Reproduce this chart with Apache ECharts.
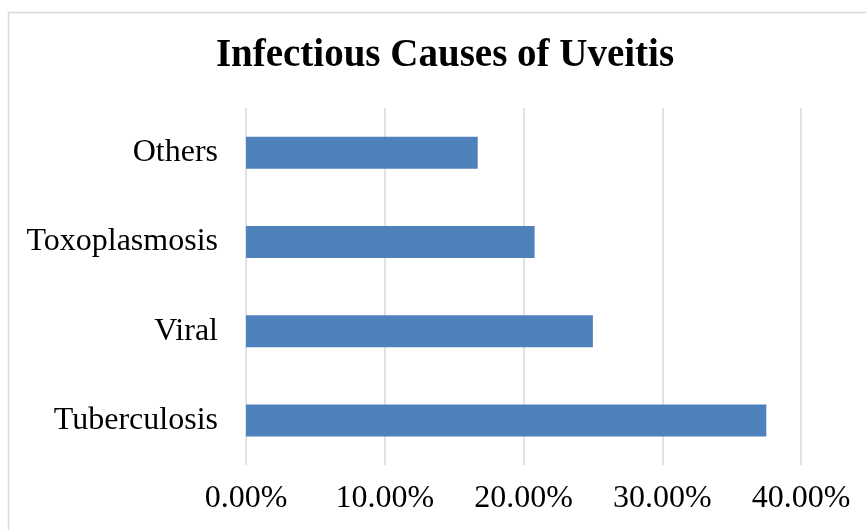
<!DOCTYPE html>
<html>
<head>
<meta charset="utf-8">
<script src="https://cdn.jsdelivr.net/npm/echarts@6/dist/echarts.min.js"></script>
<style>
  html, body { margin: 0; padding: 0; background: #fff; }
  #chart { width: 866px; height: 530px; }
</style>
</head>
<body>
<div id="chart"></div>
<script>
  // 数据
  var causes = ['Tuberculosis', 'Viral', 'Toxoplasmosis', 'Others'];
  var percents = [37.5, 25.0, 20.8, 16.7];
  var ticks = [0, 10, 20, 30, 40];

  var myChart = echarts.init(document.getElementById('chart'));
  var serif = '"Liberation Serif", "Times New Roman", serif';

  var option = {
    backgroundColor: '#fff',
    animation: false,
    title: {
      text: 'Infectious Causes of Uveitis',
      left: 440,
      textAlign: 'center',
      top: 31,
      textStyle: { fontFamily: serif, fontSize: 39, fontWeight: 'bold', color: '#000' }
    },
    graphic: [{
      type: 'rect',
      shape: { x: 8.5, y: 12.5, width: 880, height: 540 },
      style: { fill: 'none', stroke: '#d9d9d9', lineWidth: 1.5 },
      silent: true
    }],
    grid: { left: 246, right: 65, top: 108, bottom: 65 },
    xAxis: {
      type: 'value',
      min: ticks[0],
      max: ticks[ticks.length - 1],
      interval: 10,
      axisLine: { show: false },
      axisTick: { show: false },
      splitLine: { lineStyle: { color: '#d9d9d9', width: 1.5 } },
      axisLabel: {
        margin: 18,
        fontFamily: serif, fontSize: 32, color: '#000',
        formatter: function (v) { return v.toFixed(2) + '%'; }
      }
    },
    yAxis: {
      type: 'category',
      data: causes,
      axisLine: { show: false },
      axisTick: { show: false },
      axisLabel: { margin: 28, fontFamily: serif, fontSize: 32, color: '#000', padding: [4, 0, 0, 0] }
    },
    series: [{
      type: 'bar',
      data: percents,
      barWidth: 32,
      itemStyle: { color: '#4f81bd' }
    }]
  };

  myChart.setOption(option);
</script>
</body>
</html>
